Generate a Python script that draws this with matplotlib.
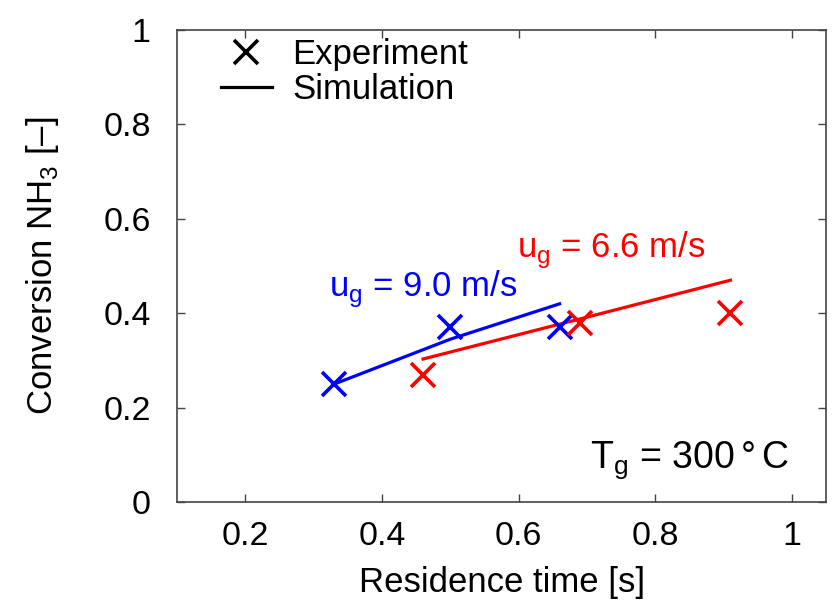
import matplotlib
matplotlib.use('Agg')
import matplotlib.pyplot as plt
from matplotlib.lines import Line2D

plt.rcParams['font.family'] = ['Liberation Sans', 'DejaVu Sans']
plt.rcParams['mathtext.fontset'] = 'custom'
plt.rcParams['mathtext.rm'] = 'Liberation Sans'

# experiment (residence time [s], conversion [-])
exp_x_90 = [0.33, 0.50, 0.66]
exp_y_90 = [0.25, 0.37, 0.37]
exp_x_66 = [0.46, 0.69, 0.91]
exp_y_66 = [0.27, 0.38, 0.40]

# simulation curves
sim_x_90 = [0.33, 0.50, 0.66]
sim_y_90 = [0.25, 0.345, 0.42]
sim_x_66 = [0.46, 0.69, 0.91]
sim_y_66 = [0.303, 0.388, 0.47]

x_ticks = [0.2, 0.4, 0.6, 0.8, 1.0]
x_tick_labels = ['0.2', '0.4', '0.6', '0.8', '1']
y_ticks = [0, 0.2, 0.4, 0.6, 0.8, 1.0]
y_tick_labels = ['0', '0.2', '0.4', '0.6', '0.8', '1']

fs = 25

fig = plt.figure(figsize=(8.37, 6.13), dpi=100)
ax = fig.add_axes([0.2115, 0.181, 0.7755, 0.770])

ax.plot(sim_x_90, sim_y_90, color='blue', lw=2.3)
ax.plot(sim_x_66, sim_y_66, color='red', lw=2.3)
ax.plot(exp_x_90, exp_y_90, ls='none', marker='x', ms=17, mew=2.6, color='blue')
ax.plot(exp_x_66, exp_y_66, ls='none', marker='x', ms=17, mew=2.6, color='red')

ax.text(0.323, 0.434, r'u$_\mathregular{g}$ = 9.0 m/s', color='blue', fontsize=fs)
ax.text(0.598, 0.517, r'u$_\mathregular{g}$ = 6.6 m/s', color='red', fontsize=fs)
ax.text(0.995, 0.072, r'T$_\mathregular{g}$ = 300$\,$°$\,$C', color='black', fontsize=27, ha='right')

ax.set_xlim(0.1, 1.05)
ax.set_ylim(0, 1)
ax.set_xticks(x_ticks)
ax.set_xticklabels(x_tick_labels)
ax.set_yticks(y_ticks)
ax.set_yticklabels(y_tick_labels)
ax.tick_params(direction='in', length=6, width=1, top=True, right=True,
               labelsize=24.5, pad=14, color='#444444')
ax.tick_params(axis='y', pad=19)
for s in ax.spines.values():
    s.set_linewidth(1.2)
    s.set_color('#444444')

ax.set_xlabel('Residence time [s]', fontsize=fs, labelpad=10)
ax.set_ylabel(r'Conversion NH$_\mathregular{3}$ [–]', fontsize=fs, labelpad=30)

handles = [Line2D([], [], ls='none', marker='x', ms=17, mew=2.6, color='black'),
           Line2D([], [], color='black', lw=2.3)]
ax.legend(handles, ['Experiment', 'Simulation'], loc='upper left',
          bbox_to_anchor=(0.02, 1.05), frameon=False, fontsize=fs,
          handlelength=1.45, handletextpad=0.6, labelspacing=0.08)

fig.savefig('out.png', dpi=100)
